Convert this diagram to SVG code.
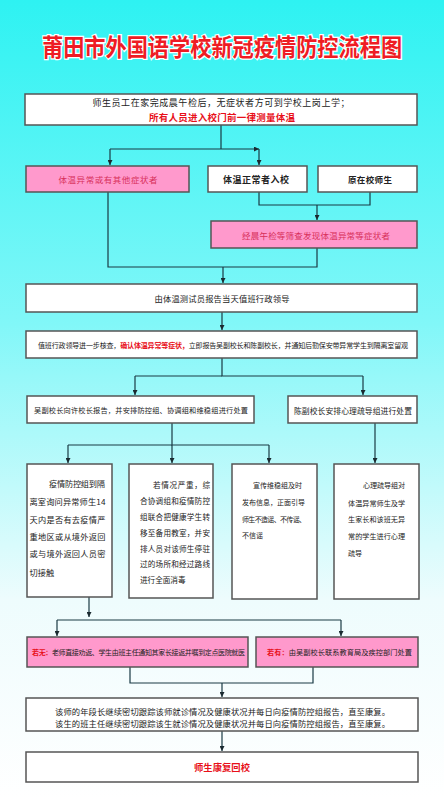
<svg xmlns="http://www.w3.org/2000/svg" width="444" height="800" viewBox="0 0 444 800">
<defs>
<linearGradient id="bg" x1="0" y1="0" x2="0" y2="1">
<stop offset="0" stop-color="#2ef2f2"/>
<stop offset="0.4" stop-color="#80f7f8"/>
<stop offset="0.75" stop-color="#eefcfd"/>
<stop offset="1" stop-color="#ffffff"/>
</linearGradient>
<marker id="ah" viewBox="0 0 8 8" refX="8" refY="4" markerWidth="5" markerHeight="5" orient="auto" markerUnits="userSpaceOnUse">
<path d="M0,0 L8,4 L0,8 Z" fill="#1a2a30"/>
</marker>
</defs>
<style>
text{font-family:"Noto Sans CJK SC","Noto Sans",sans-serif;dominant-baseline:central;}
.box{fill:#ffffff;stroke:#555555;stroke-width:1.5;}
.pink{fill:#ff99cc;stroke:#555555;stroke-width:1.5;}
.t{fill:#222222;text-anchor:middle;}
.tl{fill:#222222;}
.red{fill:#e8101a;font-weight:bold;}
.pt{fill:#d8305a;text-anchor:middle;}
.ln{fill:none;stroke:#1a3a44;stroke-width:1.2;}
.ar{marker-end:url(#ah);}
</style>
<rect x="0" y="0" width="444" height="800" fill="url(#bg)"/>
<g id="title">
<text transform="translate(222,46) scale(1,1.15)" x="0" y="0" text-anchor="middle" font-size="21.2" font-weight="bold" fill="#ee1c24" stroke="#ffffff" stroke-width="2.2" paint-order="stroke">莆田市外国语学校新冠疫情防控流程图</text>
</g>
<g id="connectors">
<path class="ln" d="M221,125 V149"/>
<path class="ln ar" d="M110,149 H259"/>
<path class="ln ar" d="M110,149 V165"/>
<path class="ln ar" d="M259,149 V165"/>
<path class="ln" d="M259,192 V205 H370 V192"/>
<path class="ln ar" d="M317,205 V220"/>
<path class="ln" d="M108,192 V267 H317 V248"/>
<path class="ln ar" d="M223,267 V283"/>
<path class="ln ar" d="M222,312 V330"/>
<path class="ln" d="M222,358 V376 H363"/>
<path class="ln ar" d="M135,376 V395"/>
<path class="ln ar" d="M363,376 V395"/>
<path class="ln" d="M135,376 H222"/>
<path class="ln" d="M172,423 V445 H269"/>
<path class="ln ar" d="M68,445 V463"/>
<path class="ln" d="M68,445 H172"/>
<path class="ln ar" d="M172,445 V463"/>
<path class="ln ar" d="M269,445 V463"/>
<path class="ln ar" d="M375,423 V463"/>
<path class="ln ar" d="M89,597 V617"/>
<path class="ln" d="M57,620 H341"/>
<path class="ln ar" d="M57,620 V636"/>
<path class="ln ar" d="M341,620 V636"/>
<path class="ln" d="M130,667 V683 H313 V667"/>
<path class="ln ar" d="M222,683 V697"/>
<path class="ln ar" d="M222,731 V751"/>
</g>
<g id="n1">
<rect class="box" x="25" y="94" width="392" height="31"/>
<text class="t" x="221" y="102" font-size="9" textLength="257" lengthAdjust="spacing">师生员工在家完成晨午检后，无症状者方可到学校上岗上学；</text>
<text class="t red" x="222" y="117" font-size="9.5" textLength="146" lengthAdjust="spacing">所有人员进入校门前一律测量体温</text>
</g>
<g id="n2">
<rect class="pink" x="26" y="166" width="163" height="26"/>
<text class="pt" x="108" y="179" font-size="8.5" textLength="99" lengthAdjust="spacing">体温异常或有其他症状者</text>
</g>
<g id="n3">
<rect class="box" x="208" y="166" width="99" height="26"/>
<text class="t" x="256" y="179" font-size="9" font-weight="bold" textLength="66" lengthAdjust="spacing">体温正常者入校</text>
</g>
<g id="n4">
<rect class="box" x="318" y="166" width="99" height="26"/>
<text class="t" x="370" y="179" font-size="8.5" font-weight="bold" textLength="44" lengthAdjust="spacing">原在校师生</text>
</g>
<g id="n5">
<rect class="pink" x="211" y="221" width="206" height="27"/>
<text class="pt" x="316" y="234.5" font-size="8.5" textLength="148" lengthAdjust="spacing">经晨午检等筛查发现体温异常等症状者</text>
</g>
<g id="n6">
<rect class="box" x="26" y="284" width="391" height="28"/>
<text class="t" x="222" y="298" font-size="8.3" textLength="135" lengthAdjust="spacing">由体温测试员报告当天值班行政领导</text>
</g>
<g id="n7">
<rect class="box" x="26" y="331" width="391" height="27"/>
<text class="tl" x="38" y="345" font-size="7" textLength="370" lengthAdjust="spacing">值班行政领导进一步核查，<tspan class="red">确认体温异常等症状，</tspan>立即报告吴副校长和陈副校长，并通知后勤保安带异常学生到隔离室留观</text>
</g>
<g id="n8">
<rect class="box" x="27" y="396" width="227" height="27"/>
<text class="t" x="141" y="410" font-size="7.2" textLength="214" lengthAdjust="spacing">吴副校长向许校长报告，并安排防控组、协调组和维稳组进行处置</text>
</g>
<g id="n9">
<rect class="box" x="288" y="396" width="129" height="27"/>
<text class="t" x="353" y="410" font-size="7.8" textLength="118" lengthAdjust="spacing">陈副校长安排心理疏导组进行处置</text>
</g>
<g id="n10">
<rect class="box" x="27" y="464" width="85" height="133"/>
<g class="tl" font-size="8.2">
<text x="49" y="483" textLength="56" lengthAdjust="spacing">疫情防控组到隔</text>
<text x="29.5" y="501" textLength="76" lengthAdjust="spacing">离室询问异常师生14</text>
<text x="29.5" y="519" textLength="76" lengthAdjust="spacing">天内是否有去疫情严</text>
<text x="29.5" y="536" textLength="76" lengthAdjust="spacing">重地区或从境外返回</text>
<text x="29.5" y="553" textLength="76" lengthAdjust="spacing">或与境外返回人员密</text>
<text x="29.5" y="572">切接触</text>
</g>
</g>
<g id="n11">
<rect class="box" x="129" y="464" width="84" height="134"/>
<g class="tl" font-size="7.6">
<text x="153" y="484" textLength="57" lengthAdjust="spacing">若情况严重，综</text>
<text x="140" y="500" textLength="70" lengthAdjust="spacing">合协调组和疫情防控</text>
<text x="140" y="516" textLength="70" lengthAdjust="spacing">组联合把健康学生转</text>
<text x="140" y="532" textLength="70" lengthAdjust="spacing">移至备用教室，并安</text>
<text x="140" y="548" textLength="70" lengthAdjust="spacing">排人员对该师生停驻</text>
<text x="140" y="563" textLength="70" lengthAdjust="spacing">过的场所和经过路线</text>
<text x="140" y="579">进行全面消毒</text>
</g>
</g>
<g id="n12">
<rect class="box" x="232" y="464" width="85" height="135"/>
<g class="tl" font-size="7">
<text x="253" y="485" textLength="49" lengthAdjust="spacing">宣传维稳组及时</text>
<text x="242" y="502" textLength="63" lengthAdjust="spacing">发布信息，正面引导</text>
<text x="242" y="519" textLength="64" lengthAdjust="spacing">师生不造谣、不传谣、</text>
<text x="242" y="535">不信谣</text>
</g>
</g>
<g id="n13">
<rect class="box" x="334" y="464" width="85" height="135"/>
<g class="tl" font-size="7.1">
<text x="363" y="485" textLength="42" lengthAdjust="spacing">心理疏导组对</text>
<text x="348" y="503" textLength="57" lengthAdjust="spacing">体温异常师生及学</text>
<text x="348" y="519" textLength="57" lengthAdjust="spacing">生家长和该班无异</text>
<text x="348" y="536" textLength="57" lengthAdjust="spacing">常的学生进行心理</text>
<text x="348" y="553">疏导</text>
</g>
</g>
<g id="n14">
<rect class="pink" x="27" y="637" width="221" height="30"/>
<text class="tl" x="32" y="652" font-size="7" textLength="213" lengthAdjust="spacing"><tspan class="red">若无：</tspan>老师直接劝返、学生由班主任通知其家长接返并嘱到定点医院就医</text>
</g>
<g id="n15">
<rect class="pink" x="256" y="637" width="162" height="30"/>
<text class="tl" x="267" y="652" font-size="7.2" textLength="145" lengthAdjust="spacing"><tspan class="red">若有：</tspan>由吴副校长联系教育局及疾控部门处置</text>
</g>
<g id="n16">
<rect class="box" x="26" y="698" width="392" height="33"/>
<text class="t" x="222.5" y="710.5" font-size="8.3" textLength="335" lengthAdjust="spacing">该师的年段长继续密切跟踪该师就诊情况及健康状况并每日向疫情防控组报告，直至康复。</text>
<text class="t" x="222.5" y="722.5" font-size="8.3" textLength="335" lengthAdjust="spacing">该生的班主任继续密切跟踪该生就诊情况及健康状况并每日向疫情防控组报告，直至康复。</text>
</g>
<g id="n17">
<rect class="box" x="26" y="752" width="392" height="30"/>
<text class="t red" x="222" y="767" font-size="9.3" textLength="56" lengthAdjust="spacing">师生康复回校</text>
</g>
</svg>
